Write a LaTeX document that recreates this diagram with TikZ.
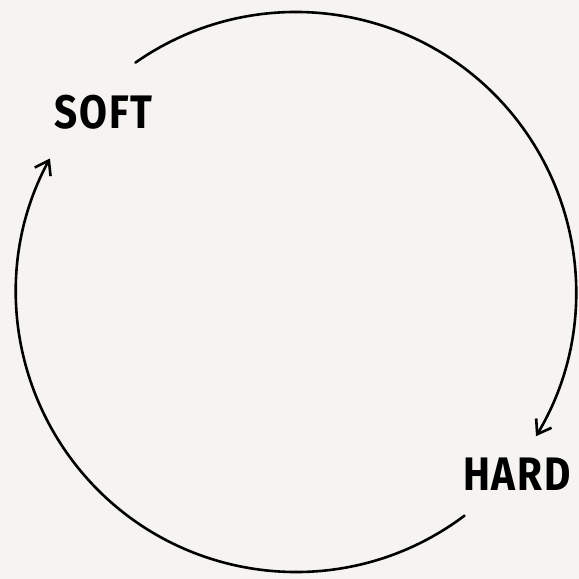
\documentclass[tikz,border=0pt]{standalone}
\usepackage{fontspec}
\newfontfamily\labelfont[FakeStretch=0.86,LetterSpace=4]{Fira Sans}
\usepackage{tikz}
\usetikzlibrary{arrows.meta}
\usepackage{xcolor}
\definecolor{paper}{RGB}{246,244,240}

\begin{document}
\begin{tikzpicture}[
  x=1pt,
  y=1pt,
  cycle arc/.style={line width=2.6pt,line cap=round},
  barb tip/.style={-{Straight Barb[length=13pt,width=18pt]}},
  phase/.style={font=\labelfont\bfseries\fontsize{47}{47}\selectfont,
    inner sep=0pt}
]
  \def\rad{280}

  % Page.
  \fill[paper] (0,0) rectangle (579,-579);
  \useasboundingbox (0,0) rectangle (579,-579);

  % Labels.
  \node[phase] (soft) at (103.5,-112) {SOFT};
  \node[phase] (hard) at (517,-474.5) {HARD};
  \coordinate (ctr) at (296,-292);

  % Arcs of the cycle.
  \draw[cycle arc,barb tip] (ctr) ++(125:\rad)
    arc[start angle=125,end angle=-31,radius=\rad];
  \draw[cycle arc,barb tip] (ctr) ++(-53:\rad)
    arc[start angle=-53,end angle=-208.5,radius=\rad];
\end{tikzpicture}
\end{document}
